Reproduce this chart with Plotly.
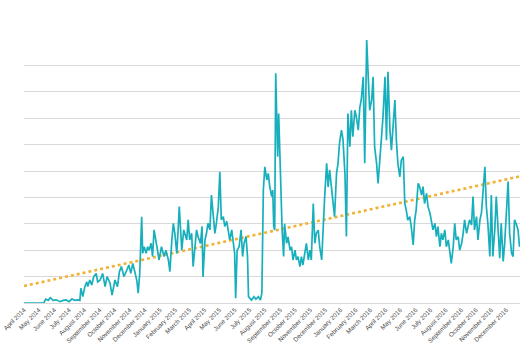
import datetime as dt
import numpy as np
import plotly.graph_objects as go

start_date = "2014-04-01"
end_date = "2016-12-29"

day_offsets = [
    0, 40, 44, 49, 53, 59, 65, 73, 79, 85, 91, 97, 103, 109, 113,
    115, 119, 123, 127, 129, 133, 137, 141, 146, 149,
    154, 159, 164, 168, 174, 178, 184, 189, 193, 197, 202, 208, 212, 216, 220, 224, 228, 231,
    234, 238, 240, 243, 247, 250, 253, 257, 260, 263, 267, 270, 273, 278, 283, 287, 292, 295,
    299, 302, 305, 309, 312, 314,
    319, 323, 329, 332, 335, 339, 342, 346, 349, 352, 357, 360, 362, 366, 369, 372, 376, 379,
    383, 386, 389, 393, 396, 399, 403, 406, 410, 413, 416, 420, 423, 426, 428, 431, 435, 439,
    442, 445, 449, 452, 454, 460, 465, 469, 474, 478, 481,
    484, 487, 491, 494, 497, 501, 503, 505, 507, 509, 511, 513, 515, 517, 519, 522, 525, 527,
    531, 534, 538, 541, 544, 548, 551, 554, 558, 561, 564, 568, 571, 575, 578, 581, 585, 588,
    591, 595, 598, 602, 605, 608, 612, 615, 618, 622, 625, 628, 632, 635, 638, 642, 645,
    649, 652, 655, 659, 662, 665, 669, 672, 676, 679, 682, 686, 689, 693, 695, 697, 699, 703,
    706, 709, 713, 716, 719, 723, 726, 730, 733, 736, 740, 743, 746, 750, 753, 756, 760, 763,
    767, 770, 773, 776, 780, 783, 787, 790, 793, 797,
    800, 804, 807, 810, 814, 817, 821, 824, 827, 831, 834, 837, 841, 844, 847, 851, 854, 858,
    861, 864, 868, 871, 874, 878, 881, 885, 888, 891, 895, 898, 901, 905, 908, 911, 915, 918,
    922, 925, 928, 932, 935, 938, 942, 945, 948, 952, 955, 959, 962, 965, 969, 972, 976, 979,
    982, 986, 989, 992, 996, 999, 1002,
]

values = [
    0, 0, 0.15, 0.1, 0.2, 0.1, 0.12, 0.05, 0.1, 0.12, 0.05, 0.15, 0.1, 0.12, 0.1,
    0.56, 0.24, 0.62, 0.8, 0.62, 0.87, 0.68, 1.0, 1.12, 0.8,
    0.87, 1.12, 0.62, 1.0, 0.75, 0.3, 0.87, 0.62, 1.19, 1.38, 1.0, 1.25, 1.44, 1.12, 1.5, 1.19, 0.87, 0.37,
    1.12, 3.27, 1.88, 2.13, 1.88, 2.13, 2.0, 2.26, 1.76, 2.77, 2.39, 2.0, 1.63, 2.13, 1.76, 2.0, 1.63, 1.19,
    2.39, 3.02, 2.64, 1.88, 2.9, 3.65,
    2.0, 2.77, 2.39, 3.15, 2.39, 2.64, 1.38, 2.39, 2.77, 2.51, 2.26, 2.9, 0.99, 2.39, 2.64, 3.02, 2.77, 4.09,
    3.15, 2.64, 3.02, 3.65, 4.97, 3.15, 3.27, 2.9, 3.09, 2.64, 2.39, 2.77, 2.39, 1.88, 0.18, 2.0, 2.13, 2.77,
    1.76, 2.26, 2.52, 1.76, 0.24, 0.11, 0.24, 0.14, 0.24, 0.11, 0.37,
    4.28, 5.16, 4.66, 4.91, 4.4, 4.03, 4.28, 2.9, 2.76, 8.7, 7.06, 5.54, 7.18, 5.79, 4.03, 2.76, 1.76, 3.0,
    2.26, 2.5, 2.0, 2.13, 1.63, 2.0, 1.63, 1.76, 1.38, 1.76, 1.44, 2.0, 2.26, 1.63, 2.0, 1.63, 3.77, 2.26,
    2.64, 2.76, 2.13, 1.63, 3.0, 4.03, 5.29, 4.4, 5.04, 4.28, 3.77, 3.27, 4.91, 5.29, 6.05, 6.55, 6.2,
    4.91, 2.52, 7.18, 5.92, 7.3, 6.3, 7.3, 7.06, 6.55, 7.4, 7.69, 8.57, 5.29, 9.96, 8.83, 7.82, 7.3, 7.69,
    8.57, 5.92, 5.29, 4.53, 5.29, 6.43, 7.06, 8.57, 6.17, 8.76, 6.55, 5.79, 6.8, 7.69, 6.17, 5.29, 4.78, 5.41,
    5.54, 3.77, 3.52, 3.14, 3.27, 2.9, 2.2, 3.14, 3.52, 4.53,
    4.41, 4.09, 4.41, 3.77, 4.15, 3.65, 3.4, 3.08, 2.77, 3.02, 2.51, 2.89, 2.13, 2.64, 2.39, 2.77, 2.13, 2.39,
    1.88, 1.5, 2.13, 3.02, 2.39, 2.51, 2.0, 2.26, 2.64, 3.15, 2.64, 2.89, 3.15, 2.96, 4.03, 2.77, 3.27, 2.39,
    3.15, 3.4, 4.28, 5.16, 3.65, 3.02, 1.76, 4.09, 1.76, 2.77, 4.03, 2.39, 1.7, 3.02, 1.57, 2.26, 3.9, 4.6,
    2.64, 1.88, 1.76, 3.15, 2.96, 2.77, 2.13,
]

month_labels = [
    "April 2014", "May 2014", "June 2014", "July 2014", "August 2014", "September 2014",
    "October 2014", "November 2014", "December 2014", "January 2015", "February 2015",
    "March 2015", "April 2015", "May 2015", "June 2015", "July 2015", "August 2015",
    "September 2015", "October 2015", "November 2015", "December 2015", "January 2016",
    "February 2016", "March 2016", "April 2016", "May 2016", "June 2016", "July 2016",
    "August 2016", "September 2016", "October 2016", "November 2016", "December 2016",
]

t0 = dt.date.fromisoformat(start_date)
dates = [t0 + dt.timedelta(days=d) for d in day_offsets]

# month tick positions
tick_dates = []
y, m = 2014, 4
for _ in month_labels:
    tick_dates.append(dt.date(y, m, 1))
    m += 1
    if m > 12:
        m, y = 1, y + 1

# linear trendline (time-weighted least squares, approximating a daily series)
dnum = np.array(day_offsets, dtype=float)
vals = np.array(values, dtype=float)
gaps = np.diff(dnum)
w = np.empty_like(dnum)
w[0] = gaps[0] / 2
w[-1] = gaps[-1] / 2
w[1:-1] = (gaps[:-1] + gaps[1:]) / 2
coef = np.polyfit(dnum, vals, 1, w=np.sqrt(w))
t_end = (dt.date.fromisoformat(end_date) - t0).days
trend_x = [dates[0], dt.date.fromisoformat(end_date)]
trend_y = [coef[1], coef[0] * t_end + coef[1]]

fig = go.Figure()
fig.add_trace(go.Scatter(
    x=trend_x, y=trend_y, mode="lines",
    line=dict(color="#F2B233", width=2.6, dash="dot"),
    showlegend=False, hoverinfo="skip",
))
fig.add_trace(go.Scatter(
    x=dates, y=values, mode="lines",
    line=dict(color="#17AFBC", width=1.7),
    showlegend=False,
))

fig.update_layout(
    width=530, height=359,
    margin=dict(l=24, r=10, t=39, b=56),
    paper_bgcolor="white", plot_bgcolor="white",
    font=dict(family="Liberation Sans, Arial, sans-serif", size=6, color="#4A4A4A"),
    xaxis=dict(
        range=[start_date, end_date], automargin=False,
        tickmode="array", tickvals=tick_dates, ticktext=month_labels,
        tickangle=-45, showgrid=False, showline=True, linecolor="#D9D9D9",
        linewidth=1, ticks="", tickfont=dict(size=6.3, color="#4A4A4A"),
        zeroline=False,
    ),
    yaxis=dict(
        range=[0, 10], dtick=1, showgrid=True, gridcolor="#D9D9D9", gridwidth=1,
        showticklabels=False, zeroline=False, showline=False, ticks="",
        automargin=False,
    ),
)

fig.write_html(
    "out.html",
    config={"displayModeBar": False},
    post_script="document.body.style.margin='0';document.body.style.padding='0';",
)
